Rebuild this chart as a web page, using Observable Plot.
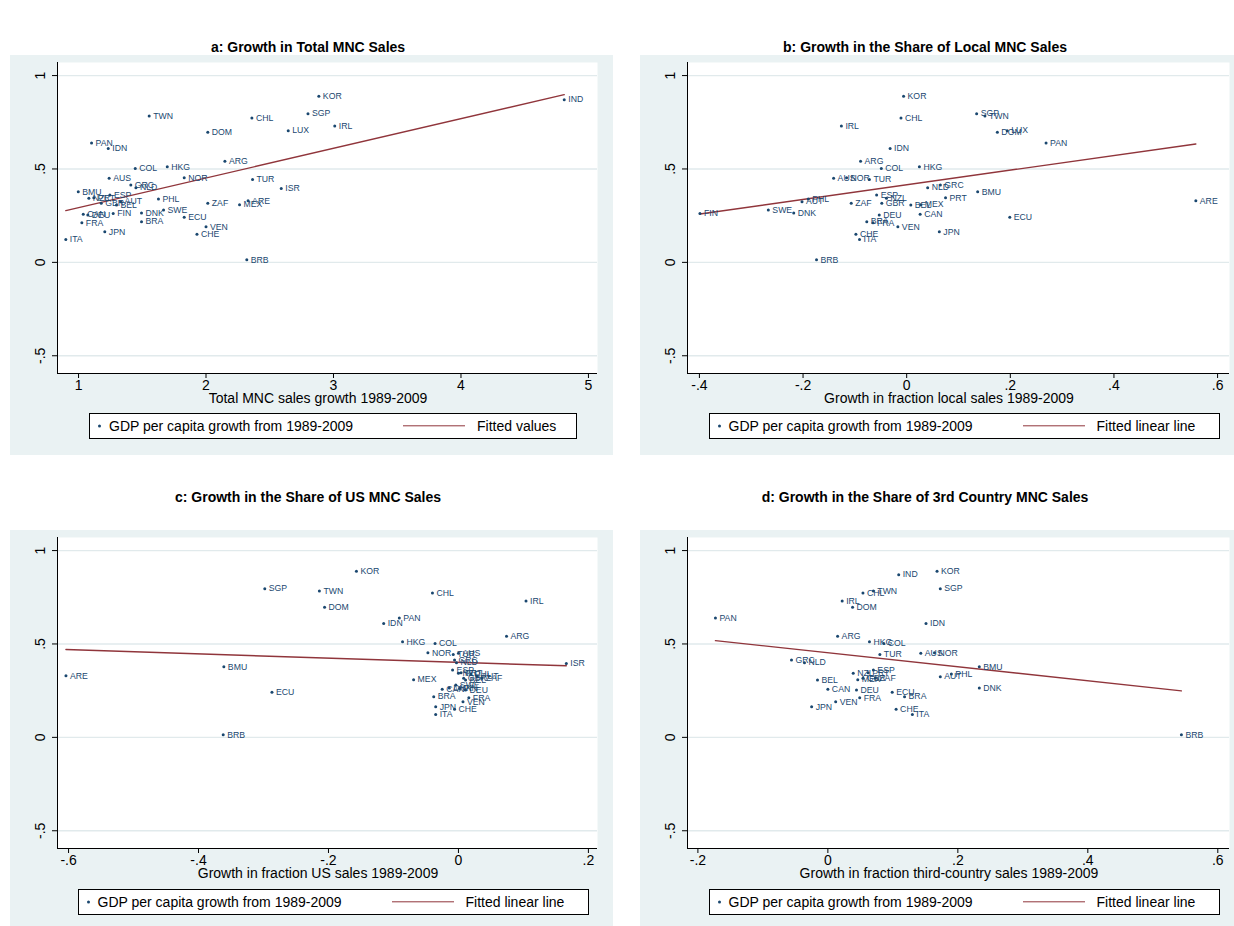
<!DOCTYPE html>
<html><head><meta charset="utf-8">
<script src="https://cdn.jsdelivr.net/npm/d3@7"></script>
<script src="https://cdn.jsdelivr.net/npm/@observablehq/plot@0.6"></script>
<style>
body{margin:0;background:#fff;font-family:"Liberation Sans",Arial,Helvetica,sans-serif;}
#root{position:relative;width:1234px;height:926px;overflow:hidden;background:#fff;}
.abs{position:absolute;}
.title{font-weight:bold;font-size:14px;white-space:nowrap;transform:translate(-50%,-50%);color:#000;}
.xtitle{font-size:14px;white-space:nowrap;transform:translateX(-50%);color:#000;}
.bg{background:#eaf2f3;}
.legend{background:#fff;border:1px solid #000;box-sizing:border-box;font-size:14px;color:#000;white-space:nowrap;}
.legend span{position:absolute;top:50%;transform:translateY(-50%);}
</style></head><body><div id="root"></div>
<script>
// ---------------- data ----------------
const countries = ["ARE","ARG","AUS","AUT","BEL","BMU","BRA","BRB","CAN","CHE","CHL","COL","DEU","DNK","DOM","ECU","ESP","FIN","FRA","GBR","GRC","HKG","IDN","IND","IRL","ISR","ITA","JPN","KOR","LUX","MEX","NLD","NOR","NZL","PAN","PHL","PRT","SGP","SWE","TUR","TWN","VEN","ZAF"];
// GDP per capita growth from 1989-2009 (y, common to all panels)
const gdpGrowth = [0.330,0.541,0.450,0.325,0.307,0.378,0.218,0.014,0.257,0.150,0.773,0.502,0.254,0.264,0.696,0.241,0.361,0.262,0.212,0.316,0.414,0.512,0.610,0.871,0.730,0.395,0.122,0.164,0.889,0.705,0.309,0.400,0.453,0.343,0.639,0.339,0.346,0.796,0.280,0.444,0.784,0.190,0.316];
// a: Total MNC sales growth 1989-2009
const totalSalesGrowth = [2.33,2.148,1.24,1.33,1.298,0.998,1.494,2.32,1.037,1.929,2.36,1.445,1.073,1.494,2.014,1.829,1.246,1.272,1.026,1.178,1.41,1.696,1.233,4.81,3.01,2.59,0.90,1.206,2.885,2.645,2.263,1.45,1.829,1.081,1.102,1.627,1.12,2.80,1.667,2.365,1.554,2.0,2.014];
// b: Growth in fraction local sales 1989-2009
const localShareGrowth = [0.558,-0.089,-0.141,-0.202,0.008,0.137,-0.077,-0.174,0.026,-0.098,-0.011,-0.049,-0.053,-0.218,0.175,0.199,-0.058,-0.399,-0.065,-0.048,0.065,0.0245,-0.032,null,-0.126,null,-0.091,0.063,-0.006,0.194,0.027,0.0405,-0.116,-0.039,0.269,-0.19,0.075,0.135,-0.267,-0.072,0.151,-0.017,-0.107];
// c: Growth in fraction US sales 1989-2009
const usShareGrowth = [-0.604,0.074,0.0,0.029,0.011,-0.361,-0.038,-0.362,-0.025,-0.006,-0.040,-0.036,0.011,-0.014,-0.206,-0.287,-0.009,0.002,0.016,0.008,-0.006,-0.086,-0.115,null,0.104,0.166,-0.035,-0.035,-0.157,null,-0.069,-0.003,-0.047,0.0,-0.091,0.019,0.004,-0.298,-0.004,-0.008,-0.214,0.007,0.036];
// d: Growth in fraction third-country sales 1989-2009
const thirdShareGrowth = [null,0.015,0.143,0.173,-0.016,0.233,0.118,0.544,0.0,0.105,0.054,0.086,0.044,0.233,0.038,0.099,0.070,null,0.049,0.054,-0.056,0.064,0.151,0.109,0.022,null,0.13,-0.025,0.168,null,0.046,-0.036,0.164,0.039,-0.173,0.19,0.062,0.173,null,0.080,0.070,0.012,0.073];
// fitted lines (end points)
const fitAX = [0.9, 4.81],   fitAY = [0.277, 0.898];
const fitBX = [-0.399, 0.558], fitBY = [0.259, 0.634];
const fitCX = [-0.604, 0.166], fitCY = [0.470, 0.383];
const fitDX = [-0.173, 0.544], fitDY = [0.518, 0.249];
// ticks
const yTicks = [-0.5, 0, 0.5, 1];
const xTicksA = [1, 2, 3, 4, 5];
const xTicksB = [-0.4, -0.2, 0, 0.2, 0.4, 0.6];
const xTicksC = [-0.6, -0.4, -0.2, 0, 0.2];
const xTicksD = [-0.2, 0, 0.2, 0.4, 0.6];
// texts
const titles = ["a: Growth in Total MNC Sales","b: Growth in the Share of Local MNC Sales","c: Growth in the Share of US MNC Sales","d: Growth in the Share of 3rd Country MNC Sales"];
const xTitles = ["Total MNC sales growth 1989-2009","Growth in fraction local sales 1989-2009","Growth in fraction US sales 1989-2009","Growth in fraction third-country sales 1989-2009"];
const legendPoint = "GDP per capita growth from 1989-2009";
const legendFits = ["Fitted values","Fitted linear line","Fitted linear line","Fitted linear line"];

// ---------------- layout ----------------
const NAVY = "#1a476f", MAROON = "#90353b", BG = "#eaf2f3", GRID = "#e1eaec";
const FONT = '"Liberation Sans", Arial, Helvetica, sans-serif';
const cols = [
  {bgL: 10, bgR: 613, pL: 57, pR: 597, titleX: 308},
  {bgL: 640, bgR: 1234, pL: 687, pR: 1229, titleX: 925}
];
const rows = [
  {titleY: 47, bgT: 55, pT: 62, pB: 373, legT: 413, bgB: 455},
  {titleY: 497, bgT: 530, pT: 537, pB: 848, legT: 889, bgB: 926}
];
const yDomain = [-0.595, 1.07];
const panels = [
  {col: 0, row: 0, xs: totalSalesGrowth, xDomain: [0.835, 5.071], xTicks: xTicksA, fx: fitAX, fy: fitAY},
  {col: 1, row: 0, xs: localShareGrowth, xDomain: [-0.423, 0.623], xTicks: xTicksB, fx: fitBX, fy: fitBY},
  {col: 0, row: 1, xs: usShareGrowth, xDomain: [-0.617, 0.214], xTicks: xTicksC, fx: fitCX, fy: fitCY},
  {col: 1, row: 1, xs: thirdShareGrowth, xDomain: [-0.216, 0.618], xTicks: xTicksD, fx: fitDX, fy: fitDY}
];

const fmt = d => String(+(+d).toFixed(3)).replace(/^(-?)0\./, "$1.");
const root = document.getElementById("root");
function el(cls, css, html){
  const e = document.createElement("div");
  e.className = "abs " + cls;
  Object.assign(e.style, css);
  if (html != null) e.innerHTML = html;
  root.appendChild(e);
  return e;
}

panels.forEach((p, i) => {
  const C = cols[p.col], R = rows[p.row];
  el("title", {left: C.titleX + "px", top: R.titleY + "px"}, titles[i]);
  el("bg", {left: C.bgL + "px", top: R.bgT + "px", width: (C.bgR - C.bgL) + "px", height: (R.bgB - R.bgT) + "px"});
  const data = countries.map((c, k) => ({c, x: p.xs[k], y: gdpGrowth[k]})).filter(d => d.x != null);
  const fit = p.fx.map((x, k) => ({x, y: p.fy[k]}));
  const W = C.bgR - C.bgL, mB = 30;
  const H = (R.pB - R.bgT) + mB;
  const svg = Plot.plot({
    width: W, height: H,
    marginLeft: C.pL - C.bgL, marginRight: C.bgR - C.pR,
    marginTop: R.pT - R.bgT, marginBottom: mB,
    x: {domain: p.xDomain}, y: {domain: yDomain},
    style: {background: "none", fontFamily: FONT, fontSize: "14px", color: "#000", overflow: "visible"},
    marks: [
      Plot.frame({fill: "white", stroke: "none"}),
      Plot.gridY({ticks: yTicks, stroke: GRID, strokeOpacity: 1, strokeWidth: 1.4}),
      Plot.ruleX([p.xDomain[0]], {stroke: "#000", strokeWidth: 1}),
      Plot.ruleY([yDomain[0]], {stroke: "#000", strokeWidth: 1}),
      Plot.axisY({ticks: yTicks, tickFormat: fmt, tickSize: 5, tickRotate: -90, tickPadding: 8, fontSize: 14, label: null}),
      Plot.axisX({ticks: p.xTicks, tickFormat: fmt, tickSize: 5, tickPadding: 2, fontSize: 14, label: null}),
      Plot.line(fit, {x: "x", y: "y", stroke: MAROON, strokeWidth: 1.4}),
      Plot.dot(data, {x: "x", y: "y", r: 1.5, fill: NAVY}),
      Plot.text(data, {x: "x", y: "y", text: "c", dx: 4, textAnchor: "start", fontSize: 8.7, fill: NAVY})
    ]
  });
  svg.style.position = "absolute";
  svg.style.left = C.bgL + "px";
  svg.style.top = R.bgT + "px";
  root.appendChild(svg);
  el("xtitle", {left: ((C.pL + C.pR) / 2 - 9) + "px", top: (R.pB + 17) + "px"}, xTitles[i]);
  const fitW = i === 0 ? 79 : 102;
  const LW = 8 + 3 + 8 + 244 + 50 + 62 + 12 + fitW + 22;
  const lc = (C.pL + C.pR) / 2 + 6;
  const lg = el("legend", {left: (lc - LW / 2) + "px", top: R.legT + "px", width: LW + "px", height: "26px"});
  lg.innerHTML =
    `<span style="left:8px;width:3px;height:3px;border-radius:50%;background:${NAVY}"></span>` +
    `<span style="left:19px">${legendPoint}</span>` +
    `<span style="left:${19 + 244 + 50}px;width:62px;height:1.4px;background:${MAROON}"></span>` +
    `<span style="left:${19 + 244 + 50 + 62 + 12}px">${legendFits[i]}</span>`;
});
</script>
</body></html>
